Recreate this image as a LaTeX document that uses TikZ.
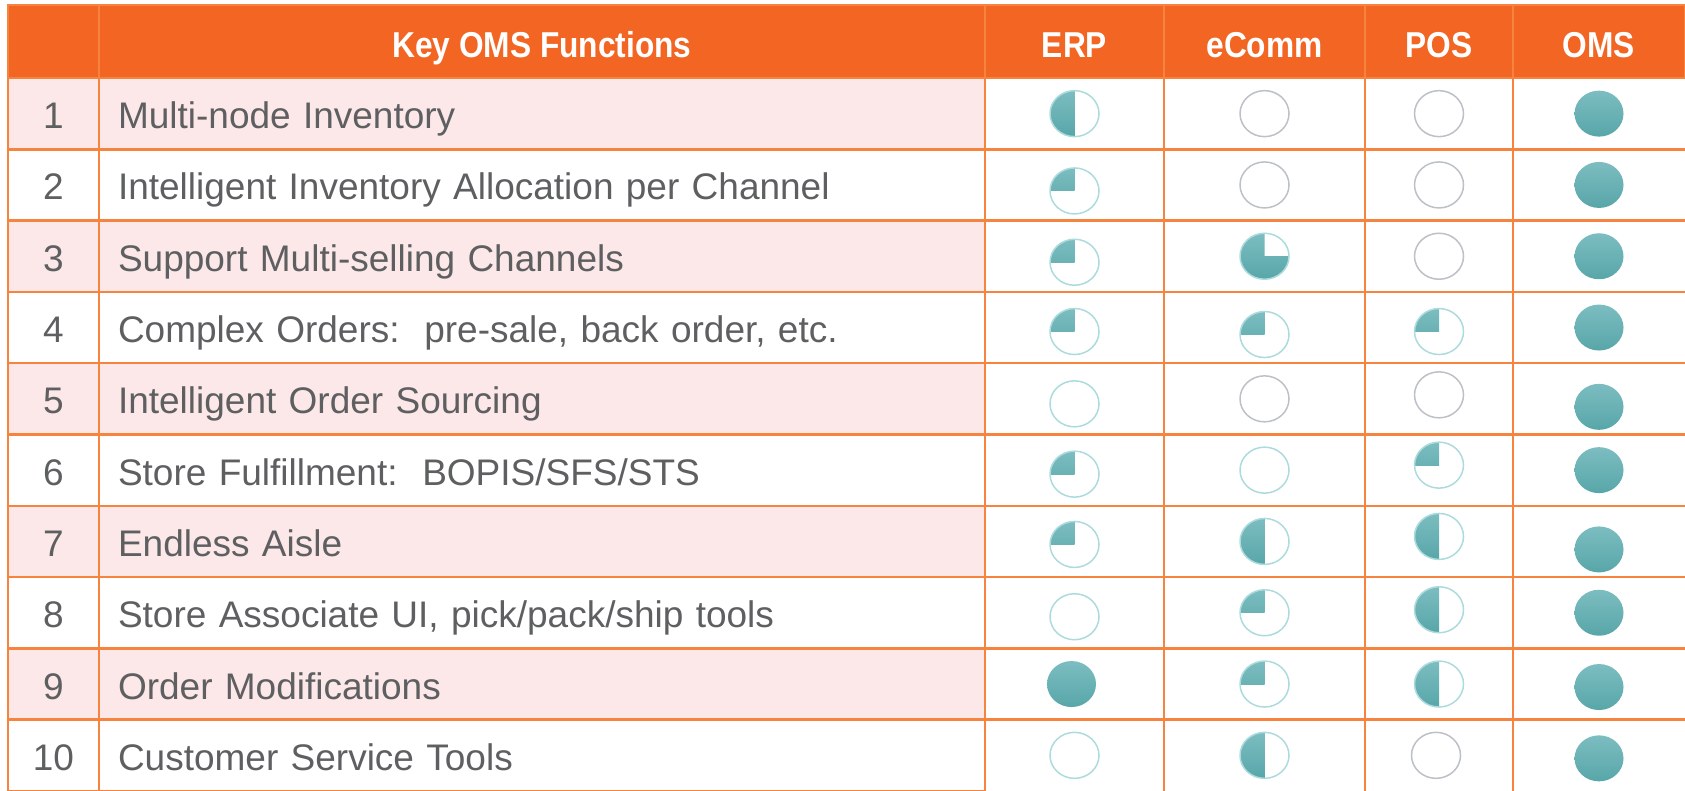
\documentclass[tikz,border=0pt]{standalone}
\usepackage{fontspec}
\setmainfont{Liberation Sans}
\usepackage{tikz}
\usetikzlibrary{shapes,positioning}
\frenchspacing
\definecolor{hdorange}{RGB}{242, 101, 34}
\definecolor{gridorange}{RGB}{246, 132, 62}
\definecolor{rowpink}{RGB}{252, 232, 232}
\definecolor{txtgrey}{RGB}{94, 95, 97}
\definecolor{balltop}{RGB}{124, 189, 192}
\definecolor{ballbot}{RGB}{88, 166, 169}
\definecolor{rimteal}{RGB}{172, 219, 221}
\definecolor{rimgrey}{RGB}{188, 192, 199}
\newcommand{\hd}[1]{\scalebox{0.88}[1]{#1}}
\tikzstyle{cell} = [rectangle, draw=gridorange, line width=2.5pt, inner sep=0pt, outer sep=0pt, minimum height=71.3pt, text=txtgrey, text height=30pt, text depth=0pt, font=\fontsize{37}{44}\selectfont]
\tikzstyle{numcell} = [cell, minimum width=91pt, align=center]
\tikzstyle{funcell} = [cell, minimum width=886pt, text width=848pt, align=left]
\tikzstyle{head} = [cell, fill=hdorange, minimum height=73pt, text=white, text height=32pt, font=\fontsize{36}{43}\selectfont\bfseries]
\tikzstyle{oddrow} = [fill=rowpink]
\tikzstyle{gridline} = [draw=gridorange, line width=2.5pt]
\tikzstyle{ball} = [ellipse, inner sep=0pt, outer sep=0pt, minimum width=49pt, minimum height=46pt, line width=1.5pt, draw=rimteal]
\tikzstyle{hfull} = [ball, draw=none, top color=balltop, bottom color=ballbot]
\tikzstyle{hnone} = [ball]
\tikzstyle{hgrey} = [ball, draw=rimgrey]
\tikzstyle{hhalf} = [ball, path picture={\shade[top color=balltop, bottom color=ballbot] (path picture bounding box.north west) rectangle (path picture bounding box.south);}]
\tikzstyle{hquart} = [ball, path picture={\shade[top color=balltop, bottom color=ballbot] (path picture bounding box.north west) rectangle (path picture bounding box.center);}]
\tikzstyle{hthree} = [ball, path picture={\shade[top color=balltop, bottom color=ballbot] (path picture bounding box.north west) rectangle (path picture bounding box.south) (path picture bounding box.west) rectangle (path picture bounding box.south east);}]

\begin{document}
\begin{tikzpicture}[x=1pt, y=1pt]

\useasboundingbox (0,0) rectangle (1685,791);

% header =============================
\node[head, minimum width=91pt] (hnum) at (53.5,749.5) {};
\node[head, minimum width=886pt, right=0pt of hnum] (hkey) {\hd{Key OMS Functions}};
\node[head, minimum width=179pt, right=0pt of hkey] (herp) {\hd{ERP}};
\node[head, minimum width=201pt, right=0pt of herp] (hecomm) {\hd{eComm}};
\node[head, minimum width=148pt, right=0pt of hecomm] (hpos) {\hd{POS}};
\node[head, minimum width=172pt, right=0pt of hpos] (homs) {\hd{OMS}};

% number column
\node[numcell, oddrow, below=0pt of hnum] (n1) {1};
\node[numcell, below=0pt of n1] (n2) {2};
\node[numcell, oddrow, below=0pt of n2] (n3) {3};
\node[numcell, below=0pt of n3] (n4) {4};
\node[numcell, oddrow, below=0pt of n4] (n5) {5};
\node[numcell, below=0pt of n5] (n6) {6};
\node[numcell, oddrow, below=0pt of n6] (n7) {7};
\node[numcell, below=0pt of n7] (n8) {8};
\node[numcell, oddrow, below=0pt of n8] (n9) {9};
\node[numcell, below=0pt of n9] (n10) {10};

% functions
\node[funcell, oddrow, right=0pt of n1] (f1) {Multi-node Inventory};
\node[funcell, right=0pt of n2] (f2) {Intelligent Inventory Allocation per Channel};
\node[funcell, oddrow, right=0pt of n3] (f3) {Support Multi-selling Channels};
\node[funcell, right=0pt of n4] (f4) {Complex Orders:~ pre-sale, back order, etc.};
\node[funcell, oddrow, right=0pt of n5] (f5) {Intelligent Order Sourcing};
\node[funcell, right=0pt of n6] (f6) {Store Fulfillment:~ BOPIS/SFS/STS};
\node[funcell, oddrow, right=0pt of n7] (f7) {Endless Aisle};
\node[funcell, right=0pt of n8] (f8) {Store Associate UI, pick/pack/ship tools};
\node[funcell, oddrow, right=0pt of n9] (f9) {Order Modifications};
\node[funcell, right=0pt of n10] (f10) {Customer Service Tools};

% grid of the rating columns
\draw[gridline] (hecomm.south west) -- (hecomm.south west |- f10.south);
\draw[gridline] (hpos.south west) -- (hpos.south west |- f10.south);
\draw[gridline] (homs.south west) -- (homs.south west |- f10.south);
\draw[gridline] (f1.south east) -- (homs.east |- f1.south);
\draw[gridline] (f2.south east) -- (homs.east |- f2.south);
\draw[gridline] (f3.south east) -- (homs.east |- f3.south);
\draw[gridline] (f4.south east) -- (homs.east |- f4.south);
\draw[gridline] (f5.south east) -- (homs.east |- f5.south);
\draw[gridline] (f6.south east) -- (homs.east |- f6.south);
\draw[gridline] (f7.south east) -- (homs.east |- f7.south);
\draw[gridline] (f8.south east) -- (homs.east |- f8.south);
\draw[gridline] (f9.south east) -- (homs.east |- f9.south);

% harvey balls
\node[hhalf] (erp1) at (herp |- n1) {};
\node[hgrey] (ecomm1) at (hecomm |- n1) {};
\node[hgrey] (pos1) at (hpos |- n1) {};
\node[hfull] (oms1) at (homs |- n1) {};

\node[hquart, yshift=-6pt] (erp2) at (herp |- n2) {};
\node[hgrey] (ecomm2) at (hecomm |- n2) {};
\node[hgrey] (pos2) at (hpos |- n2) {};
\node[hfull] (oms2) at (homs |- n2) {};

\node[hquart, yshift=-6pt] (erp3) at (herp |- n3) {};
\node[hthree] (ecomm3) at (hecomm |- n3) {};
\node[hgrey] (pos3) at (hpos |- n3) {};
\node[hfull] (oms3) at (homs |- n3) {};

\node[hquart, yshift=-4pt] (erp4) at (herp |- n4) {};
\node[hquart, yshift=-7pt] (ecomm4) at (hecomm |- n4) {};
\node[hquart, yshift=-4pt] (pos4) at (hpos |- n4) {};
\node[hfull] (oms4) at (homs |- n4) {};

\node[hnone, yshift=-5pt] (erp5) at (herp |- n5) {};
\node[hgrey] (ecomm5) at (hecomm |- n5) {};
\node[hgrey, yshift=4pt] (pos5) at (hpos |- n5) {};
\node[hfull, yshift=-8pt] (oms5) at (homs |- n5) {};

\node[hquart, yshift=-4pt] (erp6) at (herp |- n6) {};
\node[hnone] (ecomm6) at (hecomm |- n6) {};
\node[hquart, yshift=5pt] (pos6) at (hpos |- n6) {};
\node[hfull] (oms6) at (homs |- n6) {};

\node[hquart, yshift=-3pt] (erp7) at (herp |- n7) {};
\node[hhalf] (ecomm7) at (hecomm |- n7) {};
\node[hhalf, yshift=5pt] (pos7) at (hpos |- n7) {};
\node[hfull, yshift=-8pt] (oms7) at (homs |- n7) {};

\node[hnone, yshift=-4pt] (erp8) at (herp |- n8) {};
\node[hquart] (ecomm8) at (hecomm |- n8) {};
\node[hhalf, yshift=3pt] (pos8) at (hpos |- n8) {};
\node[hfull] (oms8) at (homs |- n8) {};

\node[hfull, xshift=-3pt] (erp9) at (herp |- n9) {};
\node[hquart] (ecomm9) at (hecomm |- n9) {};
\node[hhalf] (pos9) at (hpos |- n9) {};
\node[hfull, yshift=-3pt] (oms9) at (homs |- n9) {};

\node[hnone] (erp10) at (herp |- n10) {};
\node[hhalf] (ecomm10) at (hecomm |- n10) {};
\node[hgrey, xshift=-3pt] (pos10) at (hpos |- n10) {};
\node[hfull, yshift=-3pt] (oms10) at (homs |- n10) {};

\end{tikzpicture}
\end{document}
